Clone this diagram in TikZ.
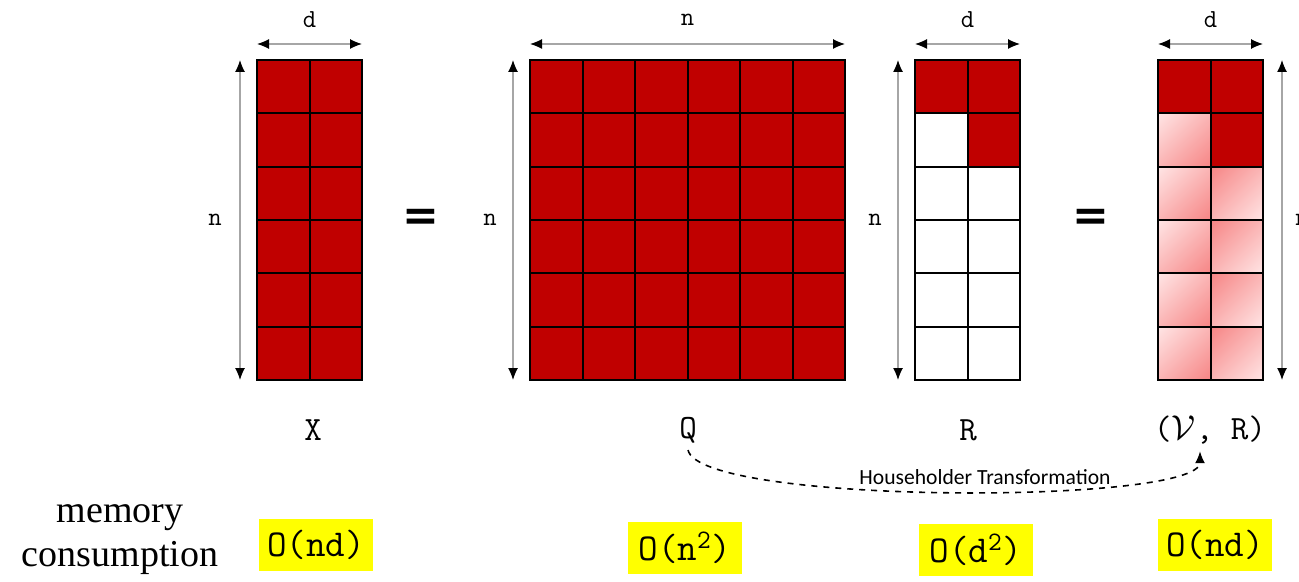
\documentclass[tikz,border=0pt]{standalone}
\usepackage{fontspec}
\setmainfont{Liberation Serif}
\newfontfamily\calibri{Carlito}
\newfontfamily\eqfont{DejaVu Sans}
\usetikzlibrary{arrows.meta}
\definecolor{qrred}{RGB}{192,0,0}
\definecolor{hlyellow}{RGB}{255,255,0}
% pink cells: light top-left -> pink bottom-right, and the other way round
\pgfdeclarefunctionalshading{pinkfall}{\pgfpoint{0bp}{0bp}}{\pgfpoint{100bp}{100bp}}{}{
  sub 50 add 100 div
  dup -0.035 mul 1 add exch -0.38 mul 0.9 add dup }
\pgfdeclarefunctionalshading{pinkrise}{\pgfpoint{0bp}{0bp}}{\pgfpoint{100bp}{100bp}}{}{
  exch sub 50 add 100 div
  dup -0.035 mul 1 add exch -0.38 mul 0.9 add dup }
\tikzset{
  cellline/.style={line width=1pt},
  dimline/.style={gray!70, line width=0.6pt, {Latex[black,length=6pt,width=5pt]}-{Latex[black,length=6pt,width=5pt]}},
  dimlabel/.style={font=\ttfamily\fontsize{13}{13}\selectfont},
  matlabel/.style={font=\ttfamily\fontsize{17}{17}\selectfont},
  memcost/.style={fill=hlyellow, inner sep=0pt, minimum width=57pt, minimum height=26pt, font=\ttfamily\fontsize{19}{19}\selectfont},
  eqsign/.style={font=\eqfont\bfseries\fontsize{22}{22}\selectfont}
}
\def\cw{52.5}
\def\ch{53.33}
\begin{document}
\begin{tikzpicture}[x=0.5pt, y=-0.5pt]
  \useasboundingbox (0,0) rectangle (1299,582);
  % X
  \foreach \c in {0,1} \foreach \r in {0,...,5}
    \draw[cellline, fill=qrred] (257+\c*\cw, 60+\r*\ch) rectangle ++(\cw,\ch);
  \draw[dimline] (257,44) -- (362,44);
  \node[dimlabel] (dX) at (309.5,20) {d};
  \draw[dimline] (240,60) -- (240,380);
  \node[dimlabel] (nX) at (215,220) {n};
  \node[eqsign] (eq1) at (421,220) {=};
  % Q
  \foreach \c in {0,...,5} \foreach \r in {0,...,5}
    \draw[cellline, fill=qrred] (530+\c*\cw, 60+\r*\ch) rectangle ++(\cw,\ch);
  \draw[dimline] (530,44) -- (845,44);
  \node[dimlabel] (nQtop) at (687.5,20) {n};
  \draw[dimline] (513,60) -- (513,380);
  \node[dimlabel] (nQ) at (490,220) {n};
  % R
  \foreach \c in {0,1} \foreach \r in {0,...,5}
    \draw[cellline, fill=white] (915+\c*\cw, 60+\r*\ch) rectangle ++(\cw,\ch);
  \foreach \c/\r in {0/0,1/0,1/1}
    \draw[cellline, fill=qrred] (915+\c*\cw, 60+\r*\ch) rectangle ++(\cw,\ch);
  \draw[dimline] (915,44) -- (1020,44);
  \node[dimlabel] (dR) at (967.5,20) {d};
  \draw[dimline] (898,60) -- (898,380);
  \node[dimlabel] (nR) at (875,220) {n};
  \node[eqsign] (eq2) at (1091,220) {=};
  % (V,R)
  \foreach \r in {1,...,5} {
    \shade[shading=pinkfall] (1158, 60+\r*\ch) rectangle ++(\cw,\ch);
    \shade[shading=pinkrise] (1158+\cw, 60+\r*\ch) rectangle ++(\cw,\ch);
  }
  \foreach \c in {0,1} \foreach \r in {0,...,5}
    \draw[cellline] (1158+\c*\cw, 60+\r*\ch) rectangle ++(\cw,\ch);
  \foreach \c/\r in {0/0,1/0,1/1}
    \draw[cellline, fill=qrred] (1158+\c*\cw, 60+\r*\ch) rectangle ++(\cw,\ch);
  \draw[dimline] (1158,44) -- (1263,44);
  \node[dimlabel] (dV) at (1210.5,20) {d};
  \draw[dimline] (1282,60) -- (1282,380);
  \node[dimlabel] (nV) at (1302,220) {n};
  % names under the matrices
  \node[matlabel] (labX) at (313,430) {X};
  \node[matlabel] (labQ) at (688,430) {Q};
  \node[matlabel] (labR) at (968,430) {R};
  \node[matlabel] (labVR) at (1210,430) {($\mathcal{V}$, R)};
  \draw[dashed, line width=0.8pt, -{Latex[length=6pt,width=5pt]}]
    (labQ.south) .. controls (700,505) and (1200,505) .. ([xshift=-5pt]labVR.south);
  \node[font=\calibri\fontsize{10.8}{10.8}\selectfont] (hh) at (985,477) {Householder Transformation};
  % memory
  \node[align=center, font=\fontsize{19}{22}\selectfont] (mem) at (120,540) {memory\\consumption};
  \node[memcost] (memX) at (316,545) {O(nd)};
  \node[memcost] (memQ) at (685,548) {O(n\textsuperscript{2})};
  \node[memcost] (memR) at (976,550) {O(d\textsuperscript{2})};
  \node[memcost] (memV) at (1215,545) {O(nd)};
\end{tikzpicture}
\end{document}
